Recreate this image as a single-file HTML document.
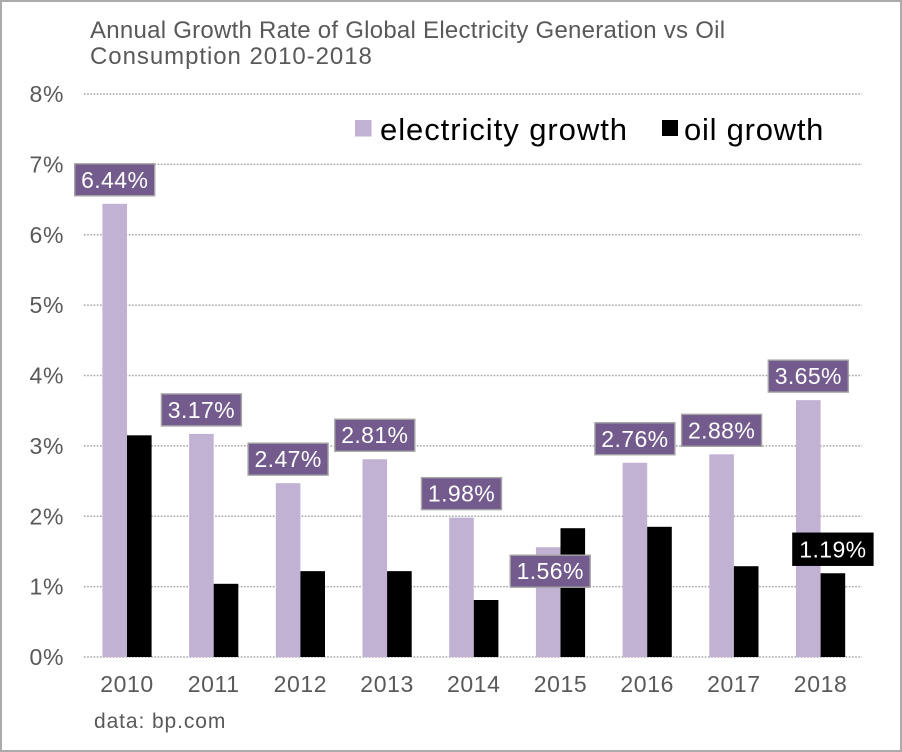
<!DOCTYPE html>
<html lang="en">
<head>
<meta charset="utf-8">
<title>Annual Growth Rate of Global Electricity Generation vs Oil Consumption 2010-2018</title>
<style>
html,body{margin:0;padding:0;background:#fff;}
svg{display:block;}
text{font-family:"Liberation Sans",sans-serif;}
</style>
</head>
<body>
<svg id="chart" xmlns="http://www.w3.org/2000/svg" width="902" height="752" viewBox="0 0 902 752">
  <rect x="1" y="1" width="900" height="750" fill="#fff" stroke="#ababab" stroke-width="2"/>
  <g fill="#595959" font-size="24">
    <text x="90" y="38" letter-spacing="0.26">Annual Growth Rate of Global Electricity Generation vs Oil</text>
    <text x="90" y="64" letter-spacing="0.95">Consumption 2010-2018</text>
  </g>
  <g id="grid"></g>
  <g id="yticks"></g>
  <g id="bars"></g>
  <g id="xticks"></g>
  <g id="labels"></g>
  <g>
    <g>
      <rect x="355" y="120" width="16.5" height="16.5" fill="#c1b2d4"/>
      <text x="380" y="140" font-size="31" letter-spacing="0.95" fill="#000">electricity growth</text>
    </g>
    <g>
      <rect x="662" y="120" width="16" height="16" fill="#000"/>
      <text x="684" y="140" font-size="31" letter-spacing="0.75" fill="#000">oil growth</text>
    </g>
  </g>
  <text x="94" y="728" font-size="21" letter-spacing="0.9" fill="#595959">data: bp.com</text>
</svg>
<script>
const years = ['2010', '2011', '2012', '2013', '2014', '2015', '2016', '2017', '2018'];
const electricityGrowth = [6.44, 3.17, 2.47, 2.81, 1.98, 1.56, 2.76, 2.88, 3.65];
const oilGrowth = [3.15, 1.04, 1.22, 1.22, 0.81, 1.83, 1.85, 1.29, 1.19];
const yTicks = [0, 1, 2, 3, 4, 5, 6, 7, 8];

const NS = 'http://www.w3.org/2000/svg';
const PLOT = { left: 84, right: 862, zero: 657, top: 94, bandLeft: 83.65, bandRight: 863.95 };
const Y_MAX = 8;
const BAR_W = 24.6;
const BOX_W = 80;
const BOX_H = 32;

function yScale(v) {
  return PLOT.zero - (v / Y_MAX) * (PLOT.zero - PLOT.top);
}
function xCenter(i) {
  return PLOT.bandLeft + (PLOT.bandRight - PLOT.bandLeft) * (i + 0.5) / years.length;
}
function make(tag, attrs, parent) {
  const el = document.createElementNS(NS, tag);
  for (const k in attrs) el.setAttribute(k, attrs[k]);
  parent.appendChild(el);
  return el;
}

const gridG = document.getElementById('grid');


const yG = document.getElementById('yticks');


yTicks.forEach(function (t) {
  const y = yScale(t);
  const line = make('line', { x1: PLOT.left, x2: PLOT.right, y1: y, y2: y, stroke: '#a3a3a3', 'stroke-width': 1.4, 'stroke-dasharray': '1.6 1.6' }, gridG);
  
  
  const label = make('text', { x: 64, y: y + 8, 'text-anchor': 'end', 'font-size': 23, 'letter-spacing': 0.6, fill: '#595959' }, yG);
  
  
  label.textContent = t + '%';
});

const barsG = document.getElementById('bars');


const xG = document.getElementById('xticks');


const labelsG = document.getElementById('labels');



function drawLabel(cx, barTop, value, fill, stroke, dx, dy) {
  const g = make('g', {}, labelsG);
  
  
  const x = cx - BOX_W / 2 + dx;
  const y = barTop - 8 - BOX_H + dy;
  make('rect', { x: x, y: y, width: BOX_W, height: BOX_H, fill: fill, stroke: stroke, 'stroke-width': 1.4 }, g);
  const t = make('text', { x: x + BOX_W / 2, y: y + 24, 'text-anchor': 'middle', 'font-size': 23, 'letter-spacing': 0.4, fill: '#fff' }, g);
  t.textContent = value.toFixed(2) + '%';
}

years.forEach(function (year, i) {
  const c = xCenter(i);
  const eTop = yScale(electricityGrowth[i]);
  const oTop = yScale(oilGrowth[i]);
  const eBar = make('rect', { x: c - BAR_W, y: eTop, width: BAR_W, height: PLOT.zero - eTop, fill: '#c1b2d4' }, barsG);
  
  
  const oBar = make('rect', { x: c, y: oTop, width: BAR_W, height: PLOT.zero - oTop, fill: '#000' }, barsG);
  
  
  const tick = make('text', { x: c, y: 692, 'text-anchor': 'middle', 'font-size': 23, 'letter-spacing': 0.6, fill: '#595959' }, xG);
  
  
  tick.textContent = year;
  // the 2015 electricity label sits lower in the reference, overlapping its bars
  const nudged = year === '2015';
  drawLabel(c - BAR_W / 2, eTop, electricityGrowth[i], '#735c8d', '#a5a5a5', nudged ? 2 : 0, nudged ? 48 : 0);
});
// only the final oil bar carries a label
const last = years.length - 1;
drawLabel(xCenter(last) + BAR_W / 2, yScale(oilGrowth[last]), oilGrowth[last], '#000', '#000', 0, 0);
</script>
</body>
</html>
